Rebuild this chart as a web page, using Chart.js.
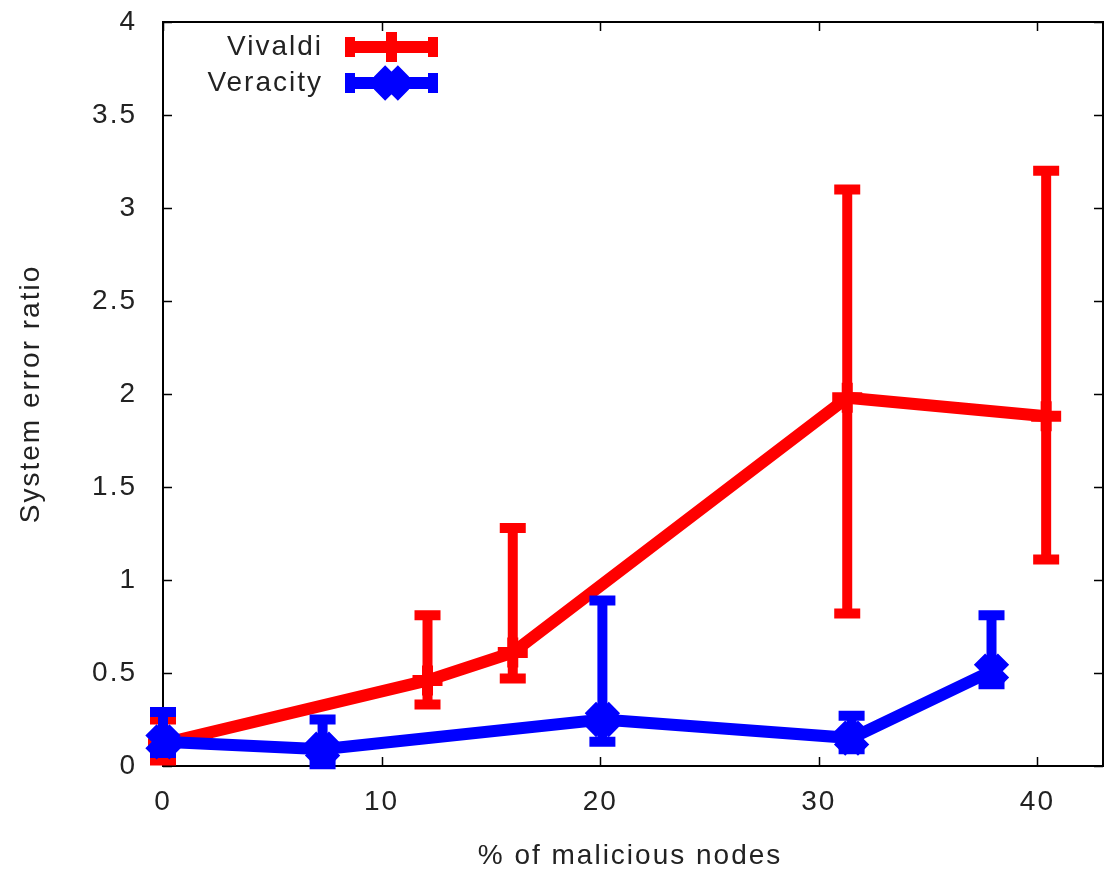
<!DOCTYPE html>
<html>
<head>
<meta charset="utf-8">
<title>System error ratio</title>
<script src="https://cdn.jsdelivr.net/npm/chart.js@4.4.1/dist/chart.umd.min.js"></script>
<style>
  html, body { margin: 0; padding: 0; background: #fff; }
  canvas { display: block; }
</style>
</head>
<body>
<canvas id="chart" width="1109" height="874"></canvas>
<script>
const xTickValues = [0, 10, 20, 30, 40];
const yTickValues = [0, 0.5, 1, 1.5, 2, 2.5, 3, 3.5, 4];

const vivaldiX = [0, 12.1, 16.0, 31.3, 40.4];
const vivaldiMean = [0.12, 0.46, 0.61, 1.98, 1.88];
const vivaldiLow = [0.03, 0.33, 0.47, 0.82, 1.11];
const vivaldiHigh = [0.25, 0.81, 1.28, 3.10, 3.20];

const veracityX = [0, 7.3, 20.1, 31.5, 37.9];
const veracityMean = [0.13, 0.09, 0.25, 0.15, 0.51];
const veracityLow = [0.07, 0.01, 0.13, 0.09, 0.44];
const veracityHigh = [0.29, 0.25, 0.89, 0.27, 0.81];

const FONT = 'Liberation Sans';
const TEXT = '#222';
const SPACING = '2px';

const points = (xs, ys) => xs.map((x, i) => ({x, y: ys[i]}));

// gnuplot style errorbars, drawn right after their own dataset so overlap order matches
const errorBars = {
  id: 'errorBars',
  afterDatasetDraw(chart, args) {
    const ds = chart.data.datasets[args.index];
    if (!ds.errLow) return;
    const {ctx, scales: {x, y}} = chart;
    ctx.save();
    ctx.strokeStyle = ds.borderColor;
    ctx.lineWidth = 10;
    ctx.lineCap = 'butt';
    ds.data.forEach((p, i) => {
      const px = x.getPixelForValue(p.x);
      const lo = y.getPixelForValue(ds.errLow[i]);
      const hi = y.getPixelForValue(ds.errHigh[i]);
      ctx.beginPath();
      ctx.moveTo(px, lo + 5);
      ctx.lineTo(px, hi - 5);
      ctx.moveTo(px - 13, lo);
      ctx.lineTo(px + 13, lo);
      ctx.moveTo(px - 13, hi);
      ctx.lineTo(px + 13, hi);
      ctx.stroke();
    });
    ctx.restore();
  }
};

// box with inward ticks on all four sides
const frame = {
  id: 'frame',
  beforeDraw(chart) {
    // gnuplot's text is loosely spaced; kept for tick labels too
    chart.ctx.letterSpacing = SPACING;
  },
  beforeDatasetsDraw(chart) {
    const {ctx, chartArea: a, scales: {x, y}} = chart;
    const len = 9;
    ctx.save();
    ctx.strokeStyle = '#000';
    ctx.lineWidth = 2;
    ctx.strokeRect(a.left, a.top, a.right - a.left, a.bottom - a.top);
    ctx.lineWidth = 1.5;
    ctx.beginPath();
    xTickValues.forEach(v => {
      const px = Math.round(x.getPixelForValue(v)) + 0.5;
      ctx.moveTo(px, a.bottom); ctx.lineTo(px, a.bottom - len);
      ctx.moveTo(px, a.top); ctx.lineTo(px, a.top + len);
    });
    yTickValues.forEach(v => {
      const py = Math.round(y.getPixelForValue(v)) + 0.5;
      ctx.moveTo(a.left, py); ctx.lineTo(a.left + len, py);
      ctx.moveTo(a.right, py); ctx.lineTo(a.right - len, py);
    });
    ctx.stroke();
    ctx.restore();
  }
};

const legendAndTitles = {
  id: 'legendAndTitles',
  afterDraw(chart) {
    const {ctx, chartArea: a} = chart;
    ctx.save();
    ctx.font = '28px "' + FONT + '"';
    ctx.letterSpacing = SPACING;
    ctx.fillStyle = TEXT;
    ctx.textBaseline = 'middle';

    ctx.textAlign = 'center';
    ctx.fillText('% of malicious nodes', 630, 856);
    ctx.save();
    ctx.translate(31, (a.top + a.bottom) / 2);
    ctx.rotate(-Math.PI / 2);
    ctx.fillText('System error ratio', 0, 0);
    ctx.restore();

    chart.data.datasets.forEach((ds, i) => {
      const cy = a.top + 25 + i * 36;
      const x0 = a.left + 182, x1 = a.left + 275, xm = (x0 + x1) / 2;
      ctx.fillStyle = TEXT;
      ctx.textAlign = 'right';
      ctx.fillText(ds.label, a.left + 160, cy);
      ctx.strokeStyle = ds.borderColor;
      ctx.fillStyle = ds.borderColor;
      ctx.lineCap = 'butt';
      ctx.lineWidth = 12;
      ctx.beginPath();
      ctx.moveTo(x0, cy); ctx.lineTo(x1, cy);
      ctx.stroke();
      ctx.lineWidth = 10;
      ctx.beginPath();
      ctx.moveTo(x0 + 5, cy - 10); ctx.lineTo(x0 + 5, cy + 10);
      ctx.moveTo(x1 - 5, cy - 10); ctx.lineTo(x1 - 5, cy + 10);
      ctx.stroke();
      ctx.lineWidth = ds.pointBorderWidth;
      Chart.helpers.drawPoint(ctx, {
        pointStyle: ds.pointStyle, radius: ds.pointRadius,
        borderWidth: ds.pointBorderWidth, rotation: 0
      }, xm, cy);
    });
    ctx.restore();
    ctx.letterSpacing = '0px';
  }
};

const noPadding = s => {
  s.paddingTop = 0; s.paddingBottom = 0; s.paddingLeft = 0; s.paddingRight = 0;
};

Chart.defaults.font.family = FONT;
Chart.defaults.font.size = 28;
Chart.defaults.color = TEXT;

new Chart(document.getElementById('chart'), {
  type: 'line',
  data: {
    datasets: [{
      label: 'Vivaldi',
      data: points(vivaldiX, vivaldiMean),
      errLow: vivaldiLow,
      errHigh: vivaldiHigh,
      borderColor: '#ff0000',
      backgroundColor: '#ff0000',
      borderWidth: 12,
      pointStyle: 'cross',
      pointRadius: 15,
      pointBorderWidth: 11,
      pointBorderColor: '#ff0000',
      pointHoverRadius: 15,
      tension: 0,
      clip: false,
      order: 1
    }, {
      label: 'Veracity',
      data: points(veracityX, veracityMean),
      errLow: veracityLow,
      errHigh: veracityHigh,
      borderColor: '#0000ff',
      backgroundColor: '#0000ff',
      borderWidth: 12,
      pointStyle: 'crossRot',
      pointRadius: 17,
      pointBorderWidth: 16,
      pointBorderColor: '#0000ff',
      pointHoverRadius: 17,
      tension: 0,
      clip: false,
      order: 0
    }]
  },
  options: {
    responsive: false,
    animation: false,
    devicePixelRatio: 1,
    events: [],
    layout: { autoPadding: false, padding: { top: 22, right: 6, left: 0, bottom: 0 } },
    plugins: { legend: { display: false }, tooltip: { enabled: false } },
    scales: {
      x: {
        type: 'linear',
        min: 0,
        max: 43,
        grid: { display: false, drawTicks: false },
        border: { display: false },
        ticks: { padding: 19, includeBounds: false, callback: v => String(v) },
        afterBuildTicks: s => { s.ticks = xTickValues.map(v => ({value: v})); },
        afterFit: s => { s.height = 108; noPadding(s); }
      },
      y: {
        min: 0,
        max: 4,
        grid: { display: false, drawTicks: false },
        border: { display: false },
        ticks: { padding: 26, callback: v => String(v) },
        afterBuildTicks: s => { s.ticks = yTickValues.map(v => ({value: v})); },
        afterFit: s => { s.width = 163; noPadding(s); }
      }
    }
  },
  plugins: [frame, errorBars, legendAndTitles]
});
</script>
</body>
</html>
